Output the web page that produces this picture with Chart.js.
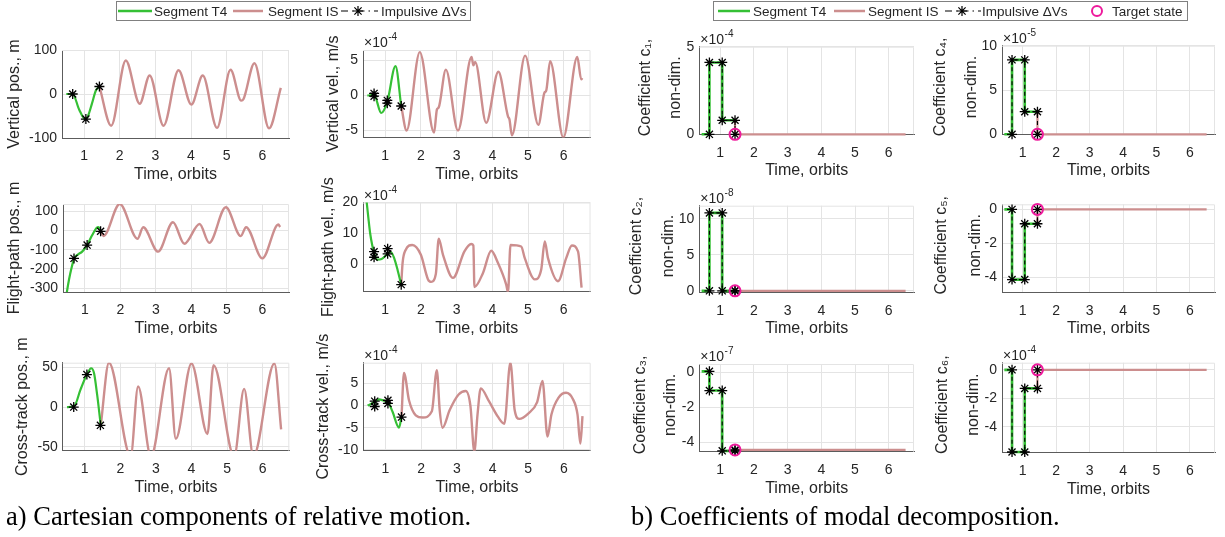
<!DOCTYPE html>
<html><head><meta charset="utf-8">
<script src="https://cdn.jsdelivr.net/npm/chart.js@4.4.1/dist/chart.umd.min.js"></script>
<style>
html,body{margin:0;padding:0;background:#fff;}
#fig{position:relative;width:1225px;height:537px;overflow:hidden;background:#fff;}
canvas{position:absolute;}
#ov{position:absolute;left:0;top:0;}
</style></head><body><div id="fig"></div>
<script>
// ---------------- DATA ----------------
const timeTicks = [1, 2, 3, 4, 5, 6];
const timeRange = [0.38, 6.75];

// Vertical position, m
const vertPosTicks = [-100, 0, 100];
const vertPosT4 = [[0.50,0],[0.68,0],[0.86,-35],[1.03,-57],[1.10,-52],[1.22,-22],[1.33,8],[1.43,17]];
const vertPosIS = [[1.43,17],[1.76,-72],[2.17,76],[2.56,-22],[2.84,42],[3.23,-72],[3.65,54],[4.01,-24],[4.33,42],[4.73,-77],[5.11,55],[5.41,-15],[5.47,-12],[5.78,70],[6.19,-78],[6.52,14]];
const vertPosDV = [[0.68,[0]],[1.05,[-57]],[1.43,[17]]];

// Vertical velocity, x1e-4 m/s
const vertVelTicks = [-5, 0, 5];
const vertVelT4 = [[0.50,0],[0.69,0.1],[0.89,-2.5],[1.06,-0.9],[1.29,4.2],[1.45,-1.5]];
const vertVelIS = [[1.45,-1.5],[1.60,-5.0],[1.97,6.2],[2.37,-5.3],[2.45,-2.0],[2.50,-1.7],[2.70,3.7],[3.04,-5.0],[3.42,5.5],[3.47,4.3],[3.52,4.8],[3.83,-3.9],[4.17,3.4],[4.44,-3.0],[4.48,-3.4],[4.55,-5.7],[4.92,5.7],[5.29,-4.2],[5.46,0.4],[5.51,0.7],[5.62,4.9],[5.99,-6.0],[6.38,5.5],[6.49,2.3],[6.52,2.5]];
const vertVelDV = [[0.69,[0.3,-0.1]],[1.06,[-0.7,-1.1]],[1.45,[-1.5]]];

// Flight-path position, m
const fpPosTicks = [-300, -200, -100, 0, 100];
const fpPosT4 = [[0.48,-330],[0.55,-255],[0.62,-195],[0.70,-143],[0.80,-125],[0.92,-110],[1.06,-76],[1.20,-25],[1.33,14],[1.38,18],[1.45,-4]];
const fpPosIS = [[1.45,-4],[1.52,-29],[1.98,138],[2.48,-43],[2.64,17],[3.06,-110],[3.48,43],[3.80,-69],[4.23,34],[4.50,-64],[4.97,121],[5.39,-29],[5.54,17],[6.00,-145],[6.45,31],[6.50,18]];
const fpPosDV = [[0.69,[-145]],[1.06,[-76]],[1.44,[-4]]];

// Flight-path velocity, x1e-4 m/s
const fpVelTicks = [0, 10, 20];
const fpVelT4 = [[0.48,20.5],[0.53,15],[0.58,10],[0.64,6],[0.70,3.2],[0.78,1.4],[0.90,1.6],[1.06,3.2],[1.16,3.9],[1.25,2],[1.35,-2],[1.45,-6.7]];
const fpVelIS = [[1.45,-6.7],[1.49,0.5],[1.57,4.5],[1.76,6.2],[2.00,3],[2.20,-5],[2.29,-5.8],[2.42,-3.2],[2.50,8.2],[2.62,3],[2.90,-4.5],[3.22,4.1],[3.41,6.5],[3.47,6],[3.50,-7.5],[3.74,-2.9],[3.97,4.3],[4.16,0.3],[4.39,-6.7],[4.44,-9.2],[4.51,6.2],[4.81,5.7],[4.91,1.9],[5.19,-5],[5.37,-1.8],[5.47,7.3],[5.56,1.9],[5.84,-5.6],[6.07,1.9],[6.23,6],[6.40,4.1],[6.50,-7.7]];
const fpVelDV = [[0.69,[4.0,2.2]],[1.07,[5.0,3.3]],[1.45,[-6.7]]];

// Cross-track position, m
const ctPosTicks = [-50, 0, 50];
const ctPosT4 = [[0.50,0],[0.70,1],[0.88,22],[1.06,41],[1.18,49],[1.26,43],[1.35,15],[1.45,-23]];
const ctPosIS = [[1.45,-23],[1.68,56],[2.29,-62],[2.50,26],[2.86,-62],[3.37,49],[3.56,-40],[4.00,55],[4.45,-34],[4.62,53],[5.20,-62],[5.48,23],[5.74,-62],[6.33,55],[6.52,-28]];
const ctPosDV = [[0.69,[0]],[1.06,[41]],[1.44,[-23]]];

// Cross-track velocity, x1e-4 m/s
const ctVelTicks = [-10, -5, 0, 5];
const ctVelT4 = [[0.50,0],[0.70,0.8],[0.82,1.4],[0.96,1.1],[1.07,0.8],[1.20,-1.4],[1.38,-5.0],[1.45,-2.6]];
const ctVelIS = [[1.45,-2.6],[1.52,7.4],[1.66,1.2],[1.85,-2.2],[2.05,-2.7],[2.30,-1.3],[2.44,8.0],[2.52,-1],[2.60,-5.0],[2.80,-1],[3.05,2.5],[3.25,3.3],[3.38,0],[3.49,-10.4],[3.58,-2],[3.67,3.9],[3.90,1],[4.15,-2.5],[4.33,-4.1],[4.50,9.7],[4.62,-1],[4.75,-3.0],[5.00,-1.8],[5.25,0.8],[5.40,5.6],[5.54,-7.0],[5.65,-2],[5.85,1.8],[6.06,2.9],[6.25,1.5],[6.38,-2],[6.46,-8.6],[6.52,-2.4]];
const ctVelDV = [[0.70,[1.0,-0.2]],[1.07,[1.2,0.5]],[1.45,[-2.6]]];

// Modal coefficients (levels before/after each impulse)
const dvTimes = [0.68, 1.06, 1.44];
const coefStart = 0.45, coefEnd = 6.5;
const c1Levels = [0, 4.1, 0.8, 0];      // x1e-4
const c2Levels = [0, 10.8, 0, 0];       // x1e-8
const c3Levels = [0.05, -1.05, -4.5, -4.45]; // x1e-7
const c4Levels = [0, 8.4, 2.55, 0];     // x1e-5
const c5Levels = [0, -4.15, -0.85, 0];
const c6Levels = [0, -5.75, -1.3, 0];   // x1e-4
const c1Ticks = [0, 5], c2Ticks = [0, 5, 10], c3Ticks = [-4, -2, 0];
const c4Ticks = [0, 5, 10], c5Ticks = [-4, -2, 0], c6Ticks = [-4, -2, 0];

// ---------------- STYLE ----------------
const FONT = "'Liberation Sans', Arial, Helvetica, 'DejaVu Sans', sans-serif";
const SVGFONT = "Liberation Sans, Arial, DejaVu Sans, sans-serif";
const TXT = '#262626', GRID = '#e4e4e4', AXIS = '#5c5c5c';
const GREEN = '#35c035', RED = 'rgb(204,142,142)', MAG = '#ee1a9c';

const xy = a => a.map(([x, y]) => ({x, y}));
function dvPoints(groups) {
  const out = [];
  groups.forEach(([t, vals]) => { vals.forEach(v => out.push({x: t, y: v})); out.push({x: t, y: null}); });
  return out;
}
function panelA(t4, is, dv) {
  return [
    {data: dvPoints(dv), borderColor: '#000', borderWidth: 1, showLine: true, spanGaps: false,
     pointStyle: 'star', pointRadius: 5, pointBorderColor: '#000', pointBorderWidth: 1.3, clip: false},
    {data: xy(t4), borderColor: GREEN, borderWidth: 2.2, pointRadius: 0, cubicInterpolationMode: 'monotone'},
    {data: xy(is), borderColor: RED, borderWidth: 2.4, pointRadius: 0, cubicInterpolationMode: 'monotone'}
  ];
}
function panelB(L) {
  const [t1, t2, t3] = dvTimes;
  const green = [[coefStart, L[0]], [t1, L[0]], [t1, L[1]], [t2, L[1]], [t2, L[2]], [t3, L[2]]];
  const imp = [[t1, L[0]], [t1, L[1]], [t2, L[1]], [t2, L[2]], [t3, L[2]], [t3, L[3]]];
  const red = [[t3, L[2]], [t3, L[3]], [coefEnd, L[3]]];
  return [
    {data: xy([[t3, L[3]]]), showLine: false, pointStyle: 'circle', pointRadius: 5.5,
     pointBorderColor: MAG, pointBorderWidth: 2, pointBackgroundColor: 'rgba(0,0,0,0)', clip: false},
    {data: xy(imp), borderColor: '#000', borderWidth: 1.1, borderDash: [4, 3], pointStyle: 'star',
     pointRadius: 5, pointBorderColor: '#000', pointBorderWidth: 1.3, clip: false},
    {data: xy(green), borderColor: GREEN, borderWidth: 2.6, pointRadius: 0, clip: false},
    {data: xy(red), borderColor: RED, borderWidth: 2.2, pointRadius: 0, clip: false}
  ];
}

const expPlugin = {
  id: 'exp',
  afterDraw(chart, args, opts) {
    if (!opts || !opts.text) return;
    const {ctx, chartArea: a} = chart;
    ctx.save();
    ctx.fillStyle = TXT;
    ctx.textBaseline = 'alphabetic';
    ctx.textAlign = 'left';
    ctx.font = '14px ' + FONT;
    ctx.fillText('\u00d710', a.left + 1, a.top - 3);
    const w = ctx.measureText('\u00d710').width;
    ctx.font = '10px ' + FONT;
    ctx.fillText(opts.text, a.left + 1 + w + 0.5, a.top - 10);
    ctx.restore();
  }
};
const boxPlugin = {
  id: 'box',
  beforeDatasetsDraw(chart) {
    const {ctx, chartArea: a} = chart;
    ctx.save();
    ctx.strokeStyle = GRID; ctx.lineWidth = 1;
    ctx.beginPath();
    ctx.moveTo(a.left, a.top + 0.5); ctx.lineTo(a.right - 0.5, a.top + 0.5); ctx.lineTo(a.right - 0.5, a.bottom);
    ctx.stroke();
    ctx.restore();
  }
};

let titleSvg = '';
function makeChart(spec) {
  const [L, T, R, B] = spec.plot;
  const cLeft = Math.round(spec.cl);
  const cTop = Math.round(T - 20);
  const width = Math.round(R + 10) - cLeft;
  const height = Math.round(B + 46) - cTop;
  const cv = document.createElement('canvas');
  cv.width = width; cv.height = height;
  cv.style.left = cLeft + 'px'; cv.style.top = cTop + 'px';
  cv.style.width = width + 'px'; cv.style.height = height + 'px';
  document.getElementById('fig').appendChild(cv);
  const yW = L - cLeft, topPad = T - cTop, rightPad = cLeft + width - R, xH = cTop + height - B;
  // y-axis title lines (drawn as real SVG text, not squeezed to the axis height)
  const lines = Array.isArray(spec.title) ? spec.title : [spec.title];
  const cy = (T + B) / 2 + (spec.tdy || 0);
  lines.forEach((ln, i) => {
    titleSvg += `<text transform="translate(${spec.tx[i]},${cy}) rotate(-90)" text-anchor="middle" dominant-baseline="central" font-size="16" fill="${TXT}" font-family="${SVGFONT}">${ln}</text>`;
  });
  new Chart(cv, {
    type: 'line',
    data: {datasets: spec.sets},
    options: {
      responsive: false, animation: false, devicePixelRatio: 1,
      events: [],
      layout: {padding: {top: topPad, right: rightPad, left: 0, bottom: 0}},
      plugins: {legend: {display: false}, tooltip: {enabled: false}, exp: {text: spec.exp || ''}},
      scales: {
        x: {
          type: 'linear', min: timeRange[0], max: timeRange[1],
          afterBuildTicks: s => { s.ticks = timeTicks.map(v => ({value: v})); },
          afterFit: s => { s.height = xH; },
          grid: {color: GRID, drawTicks: false, lineWidth: 1},
          border: {display: true, color: AXIS, width: 1},
          ticks: {color: TXT, font: {family: FONT, size: 14}, padding: 10, maxRotation: 0, callback: v => String(v)},
          title: {display: true, text: 'Time, orbits', color: TXT, font: {family: FONT, size: 16}, padding: {top: 0, bottom: 0}}
        },
        y: {
          type: 'linear', min: spec.range[0], max: spec.range[1],
          afterBuildTicks: s => { s.ticks = spec.ticks.map(v => ({value: v})); },
          afterFit: s => { s.width = yW; },
          grid: {color: GRID, drawTicks: false, lineWidth: 1},
          border: {display: true, color: AXIS, width: 1},
          ticks: {color: TXT, font: {family: FONT, size: 14}, padding: 5, callback: v => String(v)},
          title: {display: false}
        }
      }
    },
    plugins: [boxPlugin, expPlugin]
  });
}

const specs = [
  {plot: [62, 50, 289, 138], cl: 0, tx: [13.1], title: 'Vertical pos., m', ticks: vertPosTicks, range: [-100, 100], sets: panelA(vertPosT4, vertPosIS, vertPosDV)},
  {plot: [363, 50, 590.5, 137.5], cl: 319, tx: [332.5], title: 'Vertical vel., m/s', ticks: vertVelTicks, range: [-6.0, 6.5], exp: '-4', sets: panelA(vertVelT4, vertVelIS, vertVelDV)},
  {plot: [63, 204, 289, 292], cl: 0, tx: [13.1], title: 'Flight-path pos., m', ticks: fpPosTicks, range: [-320, 138], sets: panelA(fpPosT4, fpPosIS, fpPosDV)},
  {plot: [363, 202.5, 590.5, 291.7], cl: 314, tx: [327.5], title: 'Flight-path vel., m/s', ticks: fpVelTicks, range: [-9, 20], exp: '-4', sets: panelA(fpVelT4, fpVelIS, fpVelDV)},
  {plot: [62.7, 362.7, 289.3, 450.7], cl: 8, tx: [21.8], title: 'Cross-track pos., m', ticks: ctPosTicks, range: [-55, 56], sets: panelA(ctPosT4, ctPosIS, ctPosDV)},
  {plot: [363.3, 362.7, 590.7, 450.7], cl: 309, tx: [322.5], title: 'Cross-track vel., m/s', ticks: ctVelTicks, range: [-10.2, 9.7], exp: '-4', sets: panelA(ctVelT4, ctVelIS, ctVelDV)},
  {plot: [699.3, 46.7, 914, 134.3], cl: 624.5, tx: [644.1, 674.1], tdy: -3, title: ['Coefficient c\u2081,', 'non-dim.'], ticks: c1Ticks, range: [0, 5], exp: '-4', sets: panelB(c1Levels)},
  {plot: [1002, 45.7, 1215, 134.3], cl: 919.5, tx: [939.1, 970.8], tdy: -3, title: ['Coefficient c\u2084,', 'non-dim.'], ticks: c4Ticks, range: [0, 10], exp: '-5', sets: panelB(c4Levels)},
  {plot: [699.3, 205.7, 914, 292.3], cl: 616.2, tx: [635.8, 667.5], tdy: -3, title: ['Coefficient c\u2082,', 'non-dim.'], ticks: c2Ticks, range: [-0.2, 11.8], exp: '-8', sets: panelB(c2Levels)},
  {plot: [1002, 204.3, 1215, 292.3], cl: 921.2, tx: [940.8, 974.1], tdy: -3, title: ['Coefficient c\u2085,', 'non-dim.'], ticks: c5Ticks, range: [-4.9, 0.3], sets: panelB(c5Levels)},
  {plot: [699.3, 364, 914, 451.7], cl: 619.5, tx: [639.1, 669.1], tdy: -3, title: ['Coefficient c\u2083,', 'non-dim.'], ticks: c3Ticks, range: [-4.55, 0.47], exp: '-7', sets: panelB(c3Levels)},
  {plot: [1002, 362.7, 1215, 452.7], cl: 922.2, tx: [941.8, 972.5], tdy: -3, title: ['Coefficient c\u2086,', 'non-dim.'], ticks: c6Ticks, range: [-5.8, 0.5], exp: '-4', sets: panelB(c6Levels)}
];
specs.forEach(makeChart);

// ---------------- LEGENDS & CAPTIONS ----------------
function star(x, y) {
  return `<path d="M${x-5} ${y}L${x+5} ${y}M${x} ${y-5}L${x} ${y+5}M${x-3.6} ${y-3.6}L${x+3.6} ${y+3.6}M${x-3.6} ${y+3.6}L${x+3.6} ${y-3.6}" stroke="#000" stroke-width="1.2" fill="none"/>`;
}
const svgNS = 'http://www.w3.org/2000/svg';
const lg = (x0, x1, items) => {
  let s = `<rect x="${x0 + 0.5}" y="1.5" width="${x1 - x0}" height="19" fill="#fff" stroke="#808080" stroke-width="1"/>`;
  items.forEach(it => { s += it; });
  return s;
};
const tx = (x, t) => `<text x="${x}" y="16" font-size="13.5" fill="${TXT}" font-family="${SVGFONT}">${t}</text>`;
const legendA = lg(116, 470, [
  `<line x1="118" y1="11" x2="152" y2="11" stroke="${GREEN}" stroke-width="2.5"/>`, tx(154, 'Segment T4'),
  `<line x1="233" y1="11" x2="263" y2="11" stroke="${RED}" stroke-width="2.5"/>`, tx(268, 'Segment IS'),
  `<line x1="341" y1="11" x2="378" y2="11" stroke="#000" stroke-width="1.1" stroke-dasharray="7 4 1.5 4"/>`, star(358, 11), tx(381, 'Impulsive \u0394Vs')
]);
const legendB = lg(713, 1187, [
  `<line x1="718" y1="11" x2="750" y2="11" stroke="${GREEN}" stroke-width="2.5"/>`, tx(753, 'Segment T4'),
  `<line x1="834" y1="11" x2="865" y2="11" stroke="${RED}" stroke-width="2.5"/>`, tx(868, 'Segment IS'),
  `<line x1="945" y1="11" x2="981" y2="11" stroke="#000" stroke-width="1.1" stroke-dasharray="7 4 1.5 4"/>`, star(962, 11), tx(982, 'Impulsive \u0394Vs'),
  `<circle cx="1097" cy="11" r="5" fill="none" stroke="${MAG}" stroke-width="2"/>`, tx(1112, 'Target state')
]);
const captions = `<text x="6" y="524.5" font-size="26.5" fill="#000" font-family="Liberation Serif, Times New Roman, serif">a) Cartesian components of relative motion.</text>
<text x="631" y="524.5" font-size="26.5" fill="#000" font-family="Liberation Serif, Times New Roman, serif">b) Coefficients of modal decomposition.</text>`;
const ov = document.createElementNS(svgNS, 'svg');
ov.setAttribute('id', 'ov'); ov.setAttribute('width', '1225'); ov.setAttribute('height', '537');
ov.innerHTML = titleSvg + legendA + legendB + captions;
document.getElementById('fig').appendChild(ov);
</script></body></html>
